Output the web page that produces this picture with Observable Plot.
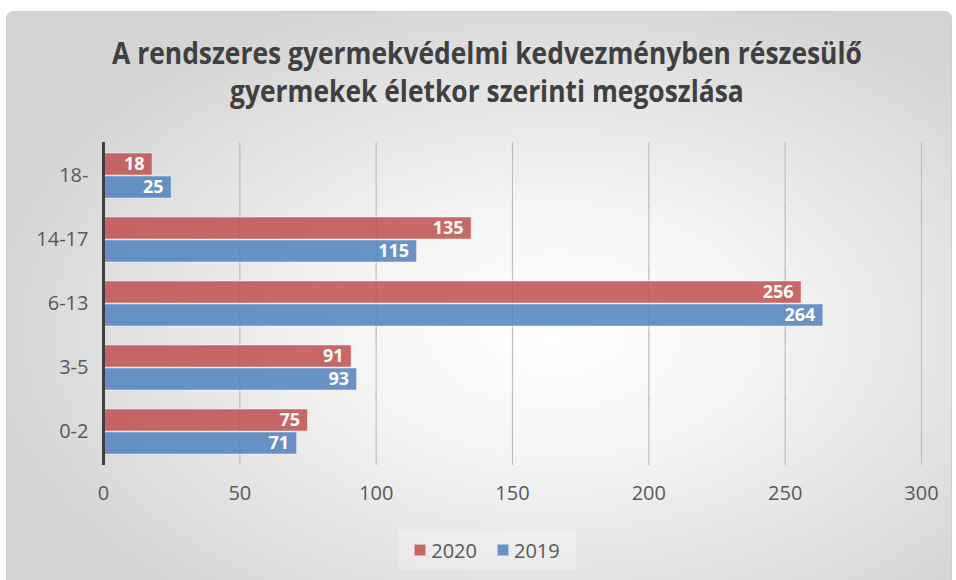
<!DOCTYPE html>
<html><head><meta charset="utf-8">
<script src="https://cdn.jsdelivr.net/npm/d3@7"></script>
<script src="https://cdn.jsdelivr.net/npm/@observablehq/plot@0.6"></script>
<style>
body{margin:0;background:#fff;}
#wrap{position:relative;width:956px;height:580px;overflow:hidden;font-family:"Open Sans",sans-serif;}
#frame{position:absolute;left:6px;top:11px;width:946px;height:580px;border:1px solid #cfcfcf;border-radius:7px;box-sizing:border-box;
  background:radial-gradient(ellipse 62% 62% at 58% 55%, #ffffff 0%, #f7f7f7 30%, #d4d4d4 100%);}
#content{position:absolute;left:0;top:0;width:956px;}
#title{height:130px;box-sizing:border-box;padding-top:34px;padding-left:18px;text-align:center;color:#404040;font-weight:700;font-size:30px;line-height:38px;}
#title span{display:inline-block;transform:scaleX(0.88);white-space:nowrap;}
#legend{height:60px;display:flex;justify-content:center;align-items:center;padding-left:18px;box-sizing:border-box;}
#legendbox{display:flex;gap:20px;padding:6px 16px;background:rgba(255,255,255,0.25);font-size:20px;color:#595959;}
.item{display:flex;align-items:center;gap:5px;}
.sw{width:12px;height:12px;box-sizing:border-box;}
</style>
</head><body>
<div id="wrap">
  <div id="frame"></div>
  <div id="content">
    <div id="title"><span>A rendszeres gyermekvédelmi kedvezményben részesülő</span><br><span>gyermekek életkor szerinti megoszlása</span></div>
    <div id="chart"></div>
    <div id="legend"><div id="legendbox"></div></div>
  </div>
</div>
<script>
const categories = ["18-", "14-17", "6-13", "3-5", "0-2"];
const years = ["2020", "2019"];
const values2020 = [18, 135, 256, 91, 75];
const values2019 = [25, 115, 264, 93, 71];
const xTicks = [0, 50, 100, 150, 200, 250, 300];
const colors = ["#c0504d", "#4f81bd"];

const data = categories.flatMap((c, i) => [
  {cat: c, year: years[0], value: values2020[i]},
  {cat: c, year: years[1], value: values2019[i]}
]);

const chart = Plot.plot({
  width: 956, height: 390,
  marginTop: 12, marginBottom: 55, marginLeft: 103, marginRight: 35,
  style: {background: "transparent", fontFamily: "Open Sans", fontSize: "20px", color: "#595959"},
  x: {domain: [0, 300], ticks: xTicks, tickSize: 0, tickPadding: 30, label: null},
  fy: {domain: categories, paddingInner: 0.266, paddingOuter: 0.156, label: null, tickSize: 0, tickPadding: 15, axis: "left"},
  y: {domain: years, paddingInner: 0.04, paddingOuter: 0, axis: null},
  color: {domain: years, range: colors},
  marks: [
    Plot.ruleX(xTicks.slice(1), {stroke: "#bfbfbf", strokeWidth: 1.2, insetTop: -10, insetBottom: -10}),
    Plot.barX(data, {fy: "cat", y: "year", x: "value", fill: "year", fillOpacity: 0.85, stroke: "#ffffff", strokeOpacity: 0.45, strokeWidth: 1}),
    Plot.text(data, {fy: "cat", y: "year", x: "value", text: d => String(d.value), textAnchor: "end", dx: -8, fill: "white", fontWeight: "bold", fontSize: 18}),
    Plot.ruleX([0], {stroke: "#404040", strokeWidth: 3, insetTop: -10, insetBottom: -10})
  ]
});
document.getElementById("chart").appendChild(chart);

const lb = document.getElementById("legendbox");
years.forEach((y, i) => {
  const it = document.createElement("div");
  it.className = "item";
  const sw = document.createElement("div");
  sw.className = "sw";
  sw.style.background = colors[i];
  sw.style.opacity = 0.85;
  sw.style.border = "1px solid rgba(255,255,255,0.5)";
  const t = document.createElement("span");
  t.textContent = y;
  it.appendChild(sw); it.appendChild(t);
  lb.appendChild(it);
});
</script>
</body></html>
